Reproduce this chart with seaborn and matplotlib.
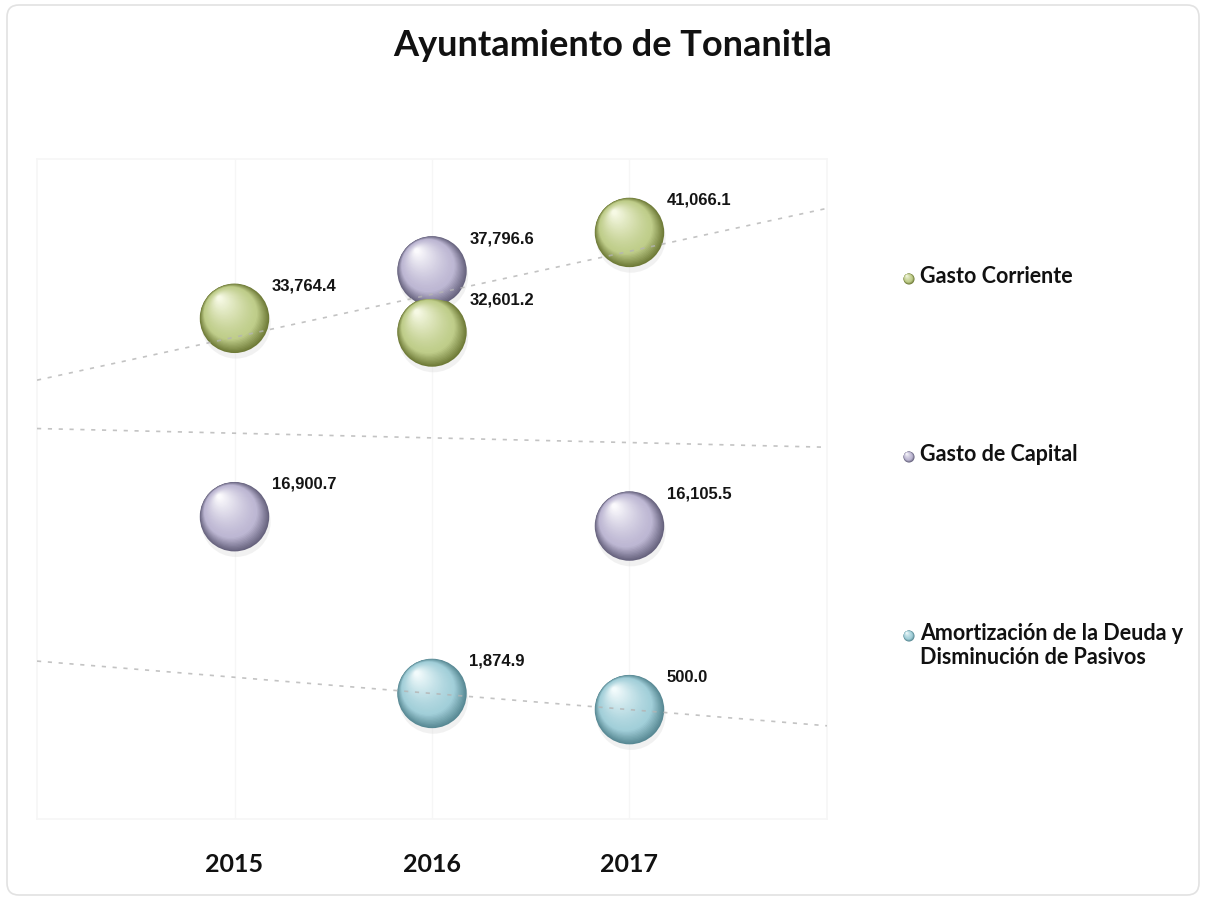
import numpy as np
import pandas as pd
import matplotlib.pyplot as plt
import seaborn as sns
from matplotlib.transforms import offset_copy
from matplotlib.colors import to_rgb
from matplotlib.patches import FancyBboxPatch

sns.set_theme(style='white')
plt.rcParams['font.family'] = ['Lato', 'DejaVu Sans']

# datos
years = [2015, 2016, 2017]
gasto_corriente = [33764.4, 32601.2, 41066.1]
gasto_capital = [16900.7, 37796.6, 16105.5]
amort_years = [2016, 2017]
amortizacion = [1874.9, 500.0]

series = ['Gasto Corriente', 'Gasto de Capital',
          'Amortización de la Deuda y Disminución de Pasivos']
legend_labels = ['Gasto Corriente', 'Gasto de Capital',
                 'Amortización de la Deuda y\nDisminución de Pasivos']

# (borde oscuro, tono medio, brillo)
tones = {
    series[0]: ('#6f7b38', '#bfcd8a', '#f6f9e4'),
    series[1]: ('#67637e', '#bdb7d3', '#fbfafd'),
    series[2]: ('#588994', '#a2cfd9', '#f2fbfc'),
}

df = pd.concat([
    pd.DataFrame({'year': years, 'value': gasto_corriente, 'serie': series[0]}),
    pd.DataFrame({'year': years, 'value': gasto_capital, 'serie': series[1]}),
    pd.DataFrame({'year': amort_years, 'value': amortizacion, 'serie': series[2]}),
], ignore_index=True)

fig = plt.figure(figsize=(12.06, 9.04), dpi=100)
ax = fig.add_axes([0.0307, 0.0929, 0.655, 0.730])
ax.set_xlim(2014, 2018)
ax.set_ylim(-8800, 47300)


def blend(c1, c2, t):
    return tuple((1 - t) * a + t * b for a, b in zip(to_rgb(c1), to_rgb(c2)))


def shade(axis, xs, ys, dark, mid, light, d_pt, base_tr, z=3, start=0, n=40):
    # esfera: circulos concentricos desplazados hacia arriba-izquierda
    R = d_pt / 2
    for i in range(start, n):
        f = i / (n - 1)
        r = R * (1 - 0.93 * f)
        off = (R - r) * 0.62
        if f < 0.25:
            c = blend(dark, mid, f / 0.25)
        else:
            c = blend(mid, light, ((f - 0.25) / 0.75) ** 1.3)
        tr = offset_copy(base_tr, fig=fig, x=-off * 0.75, y=off, units='points')
        axis.scatter(xs, ys, s=(2 * r) ** 2, color=c, edgecolors='none',
                     transform=tr, zorder=z + i * 0.001)


D = 50  # diametro en puntos

# reflejo bajo cada esfera
for s in series:
    sub = df[df['serie'] == s]
    tr = offset_copy(ax.transData, fig=fig, x=1, y=-4, units='points')
    ax.scatter(sub['year'], sub['value'], s=(D * 1.0) ** 2, color='#d9d9d9',
               alpha=0.35, edgecolors='none', transform=tr, zorder=2)

sns.scatterplot(data=df, x='year', y='value', hue='serie',
                palette={k: v[0] for k, v in tones.items()},
                s=D ** 2, edgecolor='none', legend=False, ax=ax, zorder=3)

for s in series:
    sub = df[df['serie'] == s]
    dark, mid, light = tones[s]
    shade(ax, sub['year'], sub['value'], dark, mid, light, D, ax.transData, start=1)

# lineas de tendencia
for s in series:
    sub = df[df['serie'] == s]
    sns.regplot(x=sub['year'].values, y=sub['value'].values, ax=ax, scatter=False,
                ci=None, truncate=False,
                line_kws=dict(color='#b4b4b4', lw=1.2, ls=(0, (2.5, 4)),
                              alpha=0.8, zorder=5))

# etiquetas de datos
for _, row in df.iterrows():
    ax.annotate(f"{row['value']:,.1f}", (row['year'], row['value']),
                xytext=(27, 24), textcoords='offset points', ha='left', va='center',
                fontsize=12, fontweight='bold', family=['Liberation Sans', 'DejaVu Sans'],
                color='#141414', zorder=6)

ax.set_xlim(2014, 2018)
ax.set_ylim(-8800, 47300)
ax.set_xticks(years)
ax.set_xticklabels([str(y) for y in years], fontsize=18, fontweight='bold', color='#111111')
ax.tick_params(axis='x', length=0, pad=24)
ax.set_yticks([])
ax.set_xlabel('')
ax.set_ylabel('')
ax.grid(True, axis='x', color='#f6f6f6', lw=1)
for sp in ax.spines.values():
    sp.set_color('#f6f6f6')

fig.text(0.508, 1 - 45 / 904, 'Ayuntamiento de Tonanitla', ha='center', va='center',
         fontsize=26, fontweight='bold', color='#111111')

# leyenda manual en coordenadas de pixel
lax = fig.add_axes([0, 0, 1, 1], zorder=2)
lax.set_xlim(0, 1206)
lax.set_ylim(904, 0)
lax.axis('off')
lax.patch.set_alpha(0)

leg_y = [279, 457, 636]
for s, lab, yy in zip(series, legend_labels, leg_y):
    dark, mid, light = tones[s]
    shade(lax, [909], [yy + 1], dark, mid, light, 8, lax.transData, n=14)
    lax.text(920, yy - 13, lab, ha='left', va='top', fontsize=15.5,
             fontweight='bold', color='#111111', linespacing=1.2)

lax.add_patch(FancyBboxPatch((7, 6), 1192, 890, boxstyle='round,pad=0,rounding_size=12',
                             fill=False, edgecolor='#e2e2e2', lw=1.2))

fig.savefig('out.png', dpi=100)
